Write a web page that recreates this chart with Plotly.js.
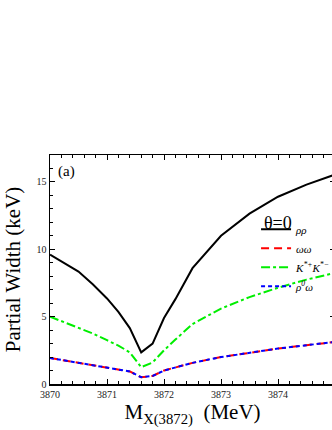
<!DOCTYPE html>
<html>
<head>
<meta charset="utf-8">
<script src="https://cdn.plot.ly/plotly-3.0.1.min.js"></script>
<style>
html,body{margin:0;padding:0;background:#fff;width:332px;height:430px;overflow:hidden;}
#wrap{position:relative;width:332px;height:430px;overflow:hidden;}
#chart{position:absolute;left:0;top:0;width:340px;height:430px;}
</style>
</head>
<body>
<div id="wrap"><div id="chart"></div></div>
<script>
const mass = [3870, 3870.25, 3870.5, 3870.75, 3871, 3871.2, 3871.4, 3871.6, 3871.8, 3872, 3872.2, 3872.5, 3873, 3873.5, 3874, 3874.5, 3875];
const rhoRho = [9.6, 9.0, 8.35, 7.4, 6.35, 5.35, 4.15, 2.35, 3.0, 4.9, 6.3, 8.6, 11.0, 12.65, 13.9, 14.8, 15.55];
const omegaOmega = [1.93, 1.75, 1.57, 1.42, 1.25, 1.12, 0.93, 0.5, 0.6, 1.0, 1.25, 1.57, 2.0, 2.32, 2.63, 2.88, 3.12];
const kstarKstar = [5.0, 4.6, 4.17, 3.75, 3.25, 2.85, 2.35, 1.25, 1.6, 2.5, 3.3, 4.45, 5.6, 6.45, 7.15, 7.75, 8.25];
const rho0Omega = [1.93, 1.75, 1.57, 1.42, 1.25, 1.12, 0.93, 0.5, 0.6, 1.0, 1.25, 1.57, 2.0, 2.32, 2.63, 2.88, 3.12];
const seriesNames = ['<i>ρρ</i>', '<i>ωω</i>', '<i>K<sup>*+</sup>K<sup>*−</sup></i>', '<i>ρ<sup>0</sup>ω</i>'];
const xTicks = [3870, 3871, 3872, 3873, 3874, 3875];
const yTicks = [0, 5, 10, 15];

const serif = 'Liberation Serif, Times New Roman, serif';
const traces = [
  {x: mass, y: rhoRho, name: seriesNames[0], mode: 'lines', line: {color: '#000000', width: 2}},
  {x: mass, y: omegaOmega, name: seriesNames[1], mode: 'lines', line: {color: '#ff0000', width: 2, dash: '8px,5px'}},
  {x: mass, y: kstarKstar, name: seriesNames[2], mode: 'lines', line: {color: '#00ee00', width: 2, dash: 'dashdot'}},
  {x: mass, y: rho0Omega, name: seriesNames[3], mode: 'lines', line: {color: '#0000ff', width: 2, dash: '4px,3px'}}
];
const axisCommon = {
  showline: true, linecolor: '#000', linewidth: 1.5, mirror: 'ticks',
  ticks: 'inside', ticklen: 5, tickwidth: 1, tickcolor: '#000',
  showgrid: false, zeroline: false, automargin: false,
  tickfont: {family: serif, size: 10, color: '#222'}
};
const layout = {
  width: 340, height: 430,
  margin: {l: 50, r: 5, t: 155, b: 46, autoexpand: false},
  paper_bgcolor: '#fff', plot_bgcolor: '#fff',
  showlegend: true,
  legend: {x: 0.723, y: 0.739, xanchor: 'left', yanchor: 'top', bgcolor: 'rgba(0,0,0,0)', borderwidth: 0,
    font: {family: serif, size: 11, color: '#000'}, itemwidth: 30, tracegroupgap: 0},
  xaxis: Object.assign({}, axisCommon, {
    range: [3870, 3875], tickvals: xTicks, ticktext: xTicks.map(String),
    minor: {ticks: 'inside', dtick: 0.2, ticklen: 3, tickcolor: '#000'},
    title: {text: 'M<sub>X(3872)</sub>  (MeV)', font: {family: serif, size: 21, color: '#000'}, standoff: 6}
  }),
  yaxis: Object.assign({}, axisCommon, {
    range: [0, 17], tickvals: yTicks, ticktext: yTicks.map(String),
    minor: {ticks: 'inside', dtick: 1, ticklen: 3, tickcolor: '#000'},
    title: {text: 'Partial Width (keV)', font: {family: serif, size: 21, color: '#000'}, standoff: 10}
  }),
  annotations: [
    {xref: 'paper', yref: 'paper', x: 0.022, y: 0.93, xanchor: 'left', yanchor: 'middle', showarrow: false,
     text: '(a)', font: {family: serif, size: 15, color: '#000'}},
    {xref: 'paper', yref: 'paper', x: 0.80, y: 0.701, xanchor: 'center', yanchor: 'middle', showarrow: false,
     text: 'θ=0', font: {family: serif, size: 18, color: '#000'}}
  ]
};
Plotly.newPlot('chart', traces, layout, {displayModeBar: false, staticPlot: true});
</script>
</body>
</html>
